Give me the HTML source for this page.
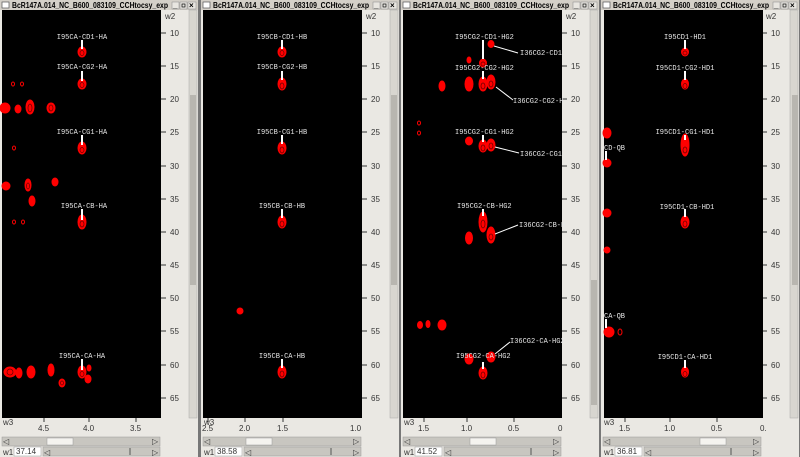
<!DOCTYPE html>
<html><head><meta charset="utf-8"><style>
body{margin:0;width:800px;height:457px;overflow:hidden;background:#d4d0c8}
svg{display:block}
.t{font-family:"Liberation Sans",sans-serif;font-size:8px;fill:#000;font-weight:bold}
.ax{font-family:"Liberation Sans",sans-serif;font-size:8px;fill:#333}
.lb{font-family:"Liberation Mono",monospace;font-size:7px;fill:#e8e8e8}
.pk{fill:#f00;stroke:#f00;stroke-width:1}
.pi{fill:none;stroke:#600;stroke-width:0.7}
.st{stroke:#fff;stroke-width:2}
.ln{stroke:#fff;stroke-width:1}
</style></head><body>
<svg width="800" height="457" viewBox="0 0 800 457" xmlns="http://www.w3.org/2000/svg">
<defs>
<g id="chrome">
  <rect x="0" y="0" width="199" height="457" fill="#eae8e3"/>
  <rect x="0" y="0" width="199" height="10" fill="#d4d0c8"/>
  <rect x="2" y="2" width="7" height="6" fill="#fff" stroke="#555" stroke-width="0.7"/>
  <text x="12" y="8" class="t" textLength="156" lengthAdjust="spacingAndGlyphs">BcR147A.014_NC_B600_083109_CCHtocsy_exp</text>
  <rect x="171" y="1" width="26" height="9" fill="#d4d0c8"/>
  <rect x="172" y="2" width="7" height="7" fill="#e8e6e0" stroke="#888" stroke-width="0.5"/>
  <rect x="180" y="2" width="7" height="7" fill="#e8e6e0" stroke="#888" stroke-width="0.5"/>
  <rect x="188" y="2" width="8" height="7" fill="#e8e6e0" stroke="#888" stroke-width="0.5"/>
  <text x="173" y="8" class="t" font-size="7">_</text>
  <rect x="182" y="4" width="3" height="3" fill="none" stroke="#000" stroke-width="0.7"/>
  <text x="189" y="8" class="t" font-size="7">×</text>
  <rect x="189" y="10" width="8" height="408" fill="#d8d6d0" stroke="#aaa" stroke-width="0.5"/>
  <text x="165" y="19" class="ax">w2</text>
  <g class="ax">
    <text x="170" y="36">10</text><text x="170" y="69">15</text><text x="170" y="102">20</text>
    <text x="170" y="135">25</text><text x="170" y="169">30</text><text x="170" y="202">35</text>
    <text x="170" y="235">40</text><text x="170" y="268">45</text><text x="170" y="301">50</text>
    <text x="170" y="334">55</text><text x="170" y="368">60</text><text x="170" y="401">65</text>
  </g>
  <g stroke="#333" stroke-width="1">
    <line x1="161" y1="33" x2="166" y2="33"/><line x1="161" y1="66" x2="166" y2="66"/><line x1="161" y1="99" x2="166" y2="99"/>
    <line x1="161" y1="132" x2="166" y2="132"/><line x1="161" y1="166" x2="166" y2="166"/><line x1="161" y1="199" x2="166" y2="199"/>
    <line x1="161" y1="232" x2="166" y2="232"/><line x1="161" y1="265" x2="166" y2="265"/><line x1="161" y1="298" x2="166" y2="298"/>
    <line x1="161" y1="331" x2="166" y2="331"/><line x1="161" y1="365" x2="166" y2="365"/><line x1="161" y1="398" x2="166" y2="398"/>
  </g>
  <text x="3" y="425" class="ax">w3</text>
  <rect x="2" y="437" width="158" height="9" fill="#c8c6c0" stroke="#999" stroke-width="0.5"/>
  <text x="3" y="444" class="ax" fill="#888">◁</text><text x="152" y="444" class="ax" fill="#888">▷</text>
  <text x="3" y="455" class="ax">w1</text>
  <rect x="14" y="447" width="27" height="9" fill="#fff" stroke="#999" stroke-width="0.5"/>
  <rect x="43" y="447" width="117" height="9" fill="#c8c6c0" stroke="#999" stroke-width="0.5"/>
  <text x="44" y="455" class="ax" fill="#888">◁</text><text x="152" y="455" class="ax" fill="#888">▷</text>
  <line x1="130" y1="448" x2="130" y2="455" stroke="#555"/>
  <rect x="198" y="0" width="3" height="457" fill="#777"/>
</g>
</defs>

<use href="#chrome" x="0"/>
<use href="#chrome" x="201"/>
<use href="#chrome" x="401"/>
<use href="#chrome" x="601"/>

<rect x="2" y="10" width="159" height="408" fill="#000"/>
<rect x="203" y="10" width="159" height="408" fill="#000"/>
<rect x="403" y="10" width="159" height="408" fill="#000"/>
<rect x="604" y="10" width="159" height="408" fill="#000"/>

<rect x="190" y="95" width="6" height="190" fill="#b8b6b0"/>
<rect x="391" y="95" width="6" height="190" fill="#b8b6b0"/>
<rect x="591" y="280" width="6" height="125" fill="#b8b6b0"/>
<rect x="792" y="95" width="6" height="190" fill="#b8b6b0"/>
<rect x="47" y="438" width="26" height="7" fill="#f4f3ef" stroke="#999" stroke-width="0.5"/>
<rect x="246" y="438" width="26" height="7" fill="#f4f3ef" stroke="#999" stroke-width="0.5"/>
<rect x="470" y="438" width="26" height="7" fill="#f4f3ef" stroke="#999" stroke-width="0.5"/>
<rect x="700" y="438" width="26" height="7" fill="#f4f3ef" stroke="#999" stroke-width="0.5"/>

<g class="ax">
<text x="16" y="454">37.14</text><text x="217" y="454">38.58</text><text x="417" y="454">41.52</text><text x="617" y="454">36.81</text>
<text x="38" y="431">4.5</text><text x="83" y="431">4.0</text><text x="130" y="431">3.5</text>
<text x="202" y="431">2.5</text><text x="239" y="431">2.0</text><text x="277" y="431">1.5</text><text x="350" y="431">1.0</text>
<text x="418" y="431">1.5</text><text x="461" y="431">1.0</text><text x="508" y="431">0.5</text><text x="558" y="431">0</text>
<text x="619" y="431">1.5</text><text x="664" y="431">1.0</text><text x="711" y="431">0.5</text><text x="760" y="431">0.</text>
</g>
<g stroke="#333">
<line x1="44" y1="418" x2="44" y2="422"/><line x1="89" y1="418" x2="89" y2="422"/><line x1="136" y1="418" x2="136" y2="422"/>
<line x1="208" y1="418" x2="208" y2="422"/><line x1="245" y1="418" x2="245" y2="422"/><line x1="283" y1="418" x2="283" y2="422"/>
<line x1="424" y1="418" x2="424" y2="422"/><line x1="467" y1="418" x2="467" y2="422"/><line x1="514" y1="418" x2="514" y2="422"/>
<line x1="625" y1="418" x2="625" y2="422"/><line x1="670" y1="418" x2="670" y2="422"/><line x1="717" y1="418" x2="717" y2="422"/>
</g>

<g class="pk">
<ellipse cx="82" cy="52" rx="4" ry="5"/><ellipse cx="82" cy="84" rx="4" ry="5"/>
<ellipse cx="82" cy="148" rx="4" ry="6"/><ellipse cx="82" cy="222" rx="4" ry="7"/>
<ellipse cx="82" cy="372" rx="4" ry="6"/>
<ellipse cx="5" cy="108" rx="5" ry="5"/><ellipse cx="18" cy="109" rx="3" ry="4"/><ellipse cx="30" cy="107" rx="4" ry="7"/><ellipse cx="51" cy="108" rx="4" ry="5"/>
<ellipse cx="6" cy="186" rx="4" ry="4"/><ellipse cx="28" cy="185" rx="3" ry="6"/><ellipse cx="32" cy="201" rx="3" ry="5"/><ellipse cx="55" cy="182" rx="3" ry="4"/>
<ellipse cx="10" cy="372" rx="6" ry="5"/><ellipse cx="19" cy="373" rx="3" ry="5"/><ellipse cx="31" cy="372" rx="4" ry="6"/><ellipse cx="51" cy="370" rx="3" ry="6"/><ellipse cx="62" cy="383" rx="3" ry="4"/><ellipse cx="88" cy="379" rx="3" ry="4"/><ellipse cx="89" cy="368" rx="2" ry="3"/>
</g>
<g fill="none" stroke="#f00">
<ellipse cx="13" cy="84" rx="1.5" ry="2"/><ellipse cx="22" cy="84" rx="1.5" ry="2"/><ellipse cx="14" cy="148" rx="1.5" ry="2"/>
<ellipse cx="14" cy="222" rx="1.5" ry="2"/><ellipse cx="23" cy="222" rx="1.5" ry="2"/>
</g>
<g class="pi">
<ellipse cx="82" cy="53" rx="2" ry="2.5"/><ellipse cx="82" cy="85" rx="2" ry="2.5"/><ellipse cx="82" cy="150" rx="2" ry="2.5"/><ellipse cx="82" cy="224" rx="2" ry="3"/><ellipse cx="82" cy="374" rx="2" ry="2.5"/>
<ellipse cx="30" cy="108" rx="2" ry="4"/><ellipse cx="51" cy="108" rx="2" ry="3"/><ellipse cx="28" cy="186" rx="1.5" ry="3"/><ellipse cx="10" cy="372" rx="3" ry="3"/><ellipse cx="62" cy="383" rx="1.5" ry="2"/>
</g>
<g class="st"><line x1="82" y1="40" x2="82" y2="49"/><line x1="82" y1="71" x2="82" y2="81"/><line x1="82" y1="135" x2="82" y2="145"/><line x1="82" y1="209" x2="82" y2="220"/><line x1="82" y1="359" x2="82" y2="370"/></g>
<g class="lb" text-anchor="middle">
<text x="82" y="39">I95CA-CD1-HA</text><text x="82" y="69">I95CA-CG2-HA</text><text x="82" y="134">I95CA-CG1-HA</text><text x="84" y="208">I95CA-CB-HA</text><text x="82" y="358">I95CA-CA-HA</text>
</g>

<g class="pk">
<ellipse cx="282" cy="52" rx="4" ry="5"/><ellipse cx="282" cy="84" rx="4" ry="6"/><ellipse cx="282" cy="148" rx="4" ry="6"/><ellipse cx="282" cy="222" rx="4" ry="6"/><ellipse cx="282" cy="372" rx="4" ry="6"/>
<ellipse cx="240" cy="311" rx="3" ry="3"/>
</g>
<g class="pi"><ellipse cx="282" cy="53" rx="2" ry="2.5"/><ellipse cx="282" cy="86" rx="2" ry="3"/><ellipse cx="282" cy="150" rx="2" ry="3"/><ellipse cx="282" cy="224" rx="2" ry="3"/><ellipse cx="282" cy="374" rx="2" ry="3"/></g>
<g class="st"><line x1="282" y1="40" x2="282" y2="49"/><line x1="282" y1="71" x2="282" y2="80"/><line x1="282" y1="135" x2="282" y2="144"/><line x1="282" y1="209" x2="282" y2="218"/><line x1="282" y1="359" x2="282" y2="368"/></g>
<g class="lb" text-anchor="middle">
<text x="282" y="39">I95CB-CD1-HB</text><text x="282" y="69">I95CB-CG2-HB</text><text x="282" y="134">I95CB-CG1-HB</text><text x="282" y="208">I95CB-CB-HB</text><text x="282" y="358">I95CB-CA-HB</text>
</g>

<g class="pk">
<ellipse cx="483" cy="63" rx="3.5" ry="4"/><ellipse cx="491" cy="44" rx="3" ry="3.5"/><ellipse cx="469" cy="60" rx="2" ry="3"/>
<ellipse cx="442" cy="86" rx="3" ry="5"/><ellipse cx="469" cy="84" rx="4" ry="7"/><ellipse cx="483" cy="84" rx="4" ry="7"/><ellipse cx="491" cy="82" rx="4" ry="7"/>
<ellipse cx="469" cy="141" rx="3.5" ry="4"/><ellipse cx="483" cy="146" rx="4" ry="6"/><ellipse cx="491" cy="145" rx="4" ry="6"/>
<ellipse cx="483" cy="222" rx="4" ry="10"/><ellipse cx="469" cy="238" rx="3.5" ry="6"/><ellipse cx="491" cy="235" rx="4" ry="8"/>
<ellipse cx="420" cy="325" rx="2.5" ry="3.5"/><ellipse cx="428" cy="324" rx="2" ry="3.5"/><ellipse cx="442" cy="325" rx="4" ry="5"/>
<ellipse cx="469" cy="359" rx="4" ry="5"/><ellipse cx="491" cy="357" rx="4" ry="5"/><ellipse cx="483" cy="373" rx="4" ry="6"/>
</g>
<g fill="none" stroke="#f00"><ellipse cx="419" cy="123" rx="1.5" ry="2"/><ellipse cx="419" cy="133" rx="1.5" ry="2"/></g>
<g class="pi"><ellipse cx="483" cy="64" rx="2" ry="2"/><ellipse cx="483" cy="86" rx="2" ry="3"/><ellipse cx="491" cy="84" rx="2" ry="3"/><ellipse cx="483" cy="148" rx="2" ry="3"/><ellipse cx="491" cy="146" rx="2" ry="3"/><ellipse cx="483" cy="224" rx="2" ry="4"/><ellipse cx="491" cy="237" rx="2" ry="3"/><ellipse cx="483" cy="375" rx="2" ry="3"/></g>
<g class="st"><line x1="483" y1="40" x2="483" y2="59"/><line x1="483" y1="71" x2="483" y2="79"/><line x1="483" y1="135" x2="483" y2="142"/><line x1="483" y1="209" x2="483" y2="216"/><line x1="483" y1="362" x2="483" y2="369"/></g>
<g class="ln"><line x1="494" y1="46" x2="518" y2="53"/><line x1="496" y1="87" x2="513" y2="100"/><line x1="495" y1="147" x2="519" y2="153"/><line x1="495" y1="234" x2="518" y2="225"/><line x1="495" y1="354" x2="510" y2="342"/></g>
<g class="lb">
<text x="455" y="39">I95CG2-CD1-HG2</text><text x="520" y="55">I36CG2-CD1</text>
<text x="455" y="70">I95CG2-CG2-HG2</text><text x="513" y="103">I36CG2-CG2-H</text>
<text x="455" y="134">I95CG2-CG1-HG2</text><text x="520" y="156">I36CG2-CG1</text>
<text x="457" y="208">I95CG2-CB-HG2</text><text x="519" y="227">I36CG2-CB-H</text>
<text x="510" y="343">I36CG2-CA-HG2</text><text x="456" y="358">I95CG2-CA-HG2</text>
</g>

<g class="pk">
<ellipse cx="685" cy="52" rx="3.5" ry="4"/><ellipse cx="685" cy="84" rx="3.5" ry="5"/><ellipse cx="685" cy="145" rx="4" ry="11"/><ellipse cx="685" cy="222" rx="4" ry="6"/><ellipse cx="685" cy="372" rx="3.5" ry="5"/>
<ellipse cx="607" cy="133" rx="4" ry="5"/><ellipse cx="607" cy="163" rx="4" ry="4"/><ellipse cx="607" cy="213" rx="4" ry="4"/><ellipse cx="607" cy="250" rx="3" ry="3"/><ellipse cx="609" cy="332" rx="5" ry="5"/>
</g>
<g fill="none" stroke="#f00"><ellipse cx="620" cy="332" rx="2" ry="3"/></g>
<g class="pi"><ellipse cx="685" cy="53" rx="2" ry="2"/><ellipse cx="685" cy="86" rx="2" ry="2.5"/><ellipse cx="685" cy="150" rx="2" ry="3"/><ellipse cx="685" cy="224" rx="2" ry="3"/><ellipse cx="685" cy="374" rx="2" ry="2.5"/></g>
<g class="st"><line x1="685" y1="40" x2="685" y2="49"/><line x1="685" y1="71" x2="685" y2="80"/><line x1="685" y1="135" x2="685" y2="140"/><line x1="685" y1="209" x2="685" y2="217"/><line x1="685" y1="360" x2="685" y2="368"/><line x1="606" y1="151" x2="606" y2="160"/><line x1="606" y1="319" x2="606" y2="328"/></g>
<g class="lb" text-anchor="middle">
<text x="685" y="39">I95CD1-HD1</text><text x="685" y="70">I95CD1-CG2-HD1</text><text x="685" y="134">I95CD1-CG1-HD1</text><text x="687" y="209">I95CD1-CB-HD1</text><text x="685" y="359">I95CD1-CA-HD1</text>
</g>
<g class="lb"><text x="604" y="150">CD-QB</text><text x="604" y="318">CA-QB</text></g>
</svg>
</body></html>
